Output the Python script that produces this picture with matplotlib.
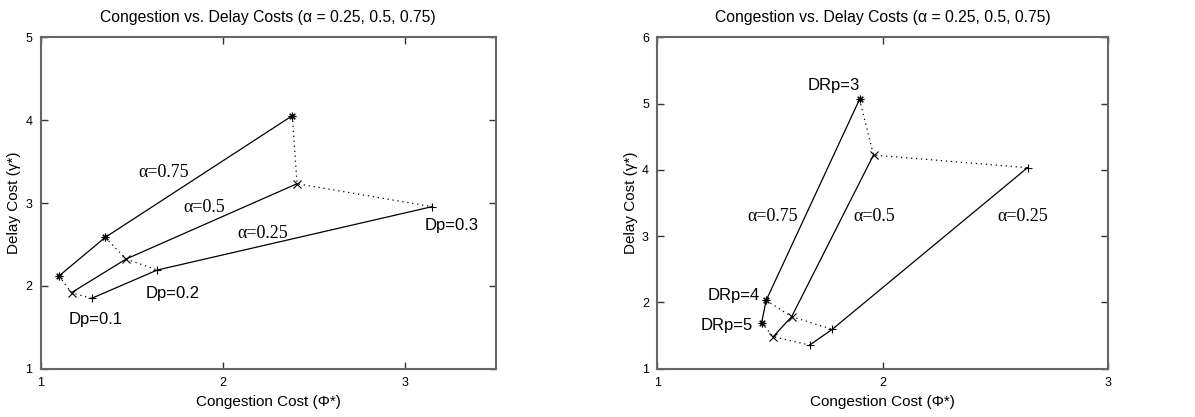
import matplotlib
matplotlib.use('Agg')
import matplotlib.pyplot as plt

plt.rcParams['font.family'] = ['Liberation Sans', 'DejaVu Sans']

# left panel: points for Dp = 0.1, 0.2, 0.3
dp_vals = ['0.1', '0.2', '0.3']
left_x_075 = [1.10, 1.354, 2.382]
left_y_075 = [2.119, 2.585, 4.054]
left_x_050 = [1.169, 1.469, 2.408]
left_y_050 = [1.918, 2.324, 3.233]
left_x_025 = [1.279, 1.640, 3.150]
left_y_025 = [1.849, 2.191, 2.956]

# right panel: points for DRp = 3, 4, 5
drp_vals = ['3', '4', '5']
right_x_075 = [1.897, 1.483, 1.463]
right_y_075 = [5.064, 2.031, 1.694]
right_x_050 = [1.959, 1.596, 1.514]
right_y_050 = [4.224, 1.785, 1.483]
right_x_025 = [2.642, 1.776, 1.676]
right_y_025 = [4.033, 1.594, 1.357]

title = 'Congestion vs. Delay Costs (\u03b1 = 0.25, 0.5, 0.75)'
markers = [(8, 2, 0), 'x', '+']


def draw_panel(ax, xs, ys, xlim, ylim, xticks, yticks):
    for x, y, m in zip(xs, ys, markers):
        ax.plot(x, y, color='k', linewidth=0.9, marker=m, markersize=5.5, markeredgewidth=0.8)
    # dotted lines joining the same parameter value across alphas
    for i in range(3):
        ax.plot([xs[0][i], xs[1][i], xs[2][i]], [ys[0][i], ys[1][i], ys[2][i]],
                color='k', linestyle=(0, (1, 3)), linewidth=0.9)
    ax.set_xlim(xlim)
    ax.set_ylim(ylim)
    ax.set_xticks(xticks)
    ax.set_yticks(yticks)
    ax.tick_params(direction='in', top=True, right=True, length=5, width=1, labelsize=9,
                   color='#333333', pad=6)
    for s in ax.spines.values():
        s.set_color('#666666')
        s.set_linewidth(1.5)
    ax.set_title(title, fontsize=11.3, pad=11)
    ax.set_xlabel('Congestion Cost (\u03a6*)', fontsize=11, labelpad=4)
    ax.set_ylabel('Delay Cost (\u03b3*)', fontsize=11, labelpad=3)


fig = plt.figure(figsize=(11.95, 4.17), dpi=100)

ax1 = fig.add_axes([0.0341, 0.1158, 0.3808, 0.7947])
draw_panel(ax1, [left_x_075, left_x_050, left_x_025], [left_y_075, left_y_050, left_y_025],
           (1, 3.5), (1, 5), [1, 2, 3], [1, 2, 3, 4, 5])
serif = ['Liberation Serif', 'DejaVu Serif']
ax1.text(1.678, 3.366, '\u03b1=0.75', fontsize=13, family=serif, ha='center', va='center')
ax1.text(1.90, 2.94, '\u03b1=0.5', fontsize=13, family=serif, ha='center', va='center')
ax1.text(2.22, 2.63, '\u03b1=0.25', fontsize=13, family=serif, ha='center', va='center')
ax1.text(3.26, 2.73, 'Dp=' + dp_vals[2], fontsize=12, ha='center', va='center')
ax1.text(1.724, 1.91, 'Dp=' + dp_vals[1], fontsize=12, ha='center', va='center')
ax1.text(1.304, 1.596, 'Dp=' + dp_vals[0], fontsize=12, ha='center', va='center')

ax2 = fig.add_axes([0.5500, 0.1158, 0.3774, 0.7947])
draw_panel(ax2, [right_x_075, right_x_050, right_x_025], [right_y_075, right_y_050, right_y_025],
           (1, 3), (1, 6), [1, 2, 3], [1, 2, 3, 4, 5, 6])
ax2.text(1.513, 3.304, '\u03b1=0.75', fontsize=13, family=serif, ha='center', va='center')
ax2.text(1.962, 3.304, '\u03b1=0.5', fontsize=13, family=serif, ha='center', va='center')
ax2.text(2.619, 3.304, '\u03b1=0.25', fontsize=13, family=serif, ha='center', va='center')
ax2.text(1.782, 5.266, 'DRp=' + drp_vals[0], fontsize=12, ha='center', va='center')
ax2.text(1.341, 2.107, 'DRp=' + drp_vals[1], fontsize=12, ha='center', va='center')
ax2.text(1.309, 1.659, 'DRp=' + drp_vals[2], fontsize=12, ha='center', va='center')

fig.savefig('out.png', dpi=100)
